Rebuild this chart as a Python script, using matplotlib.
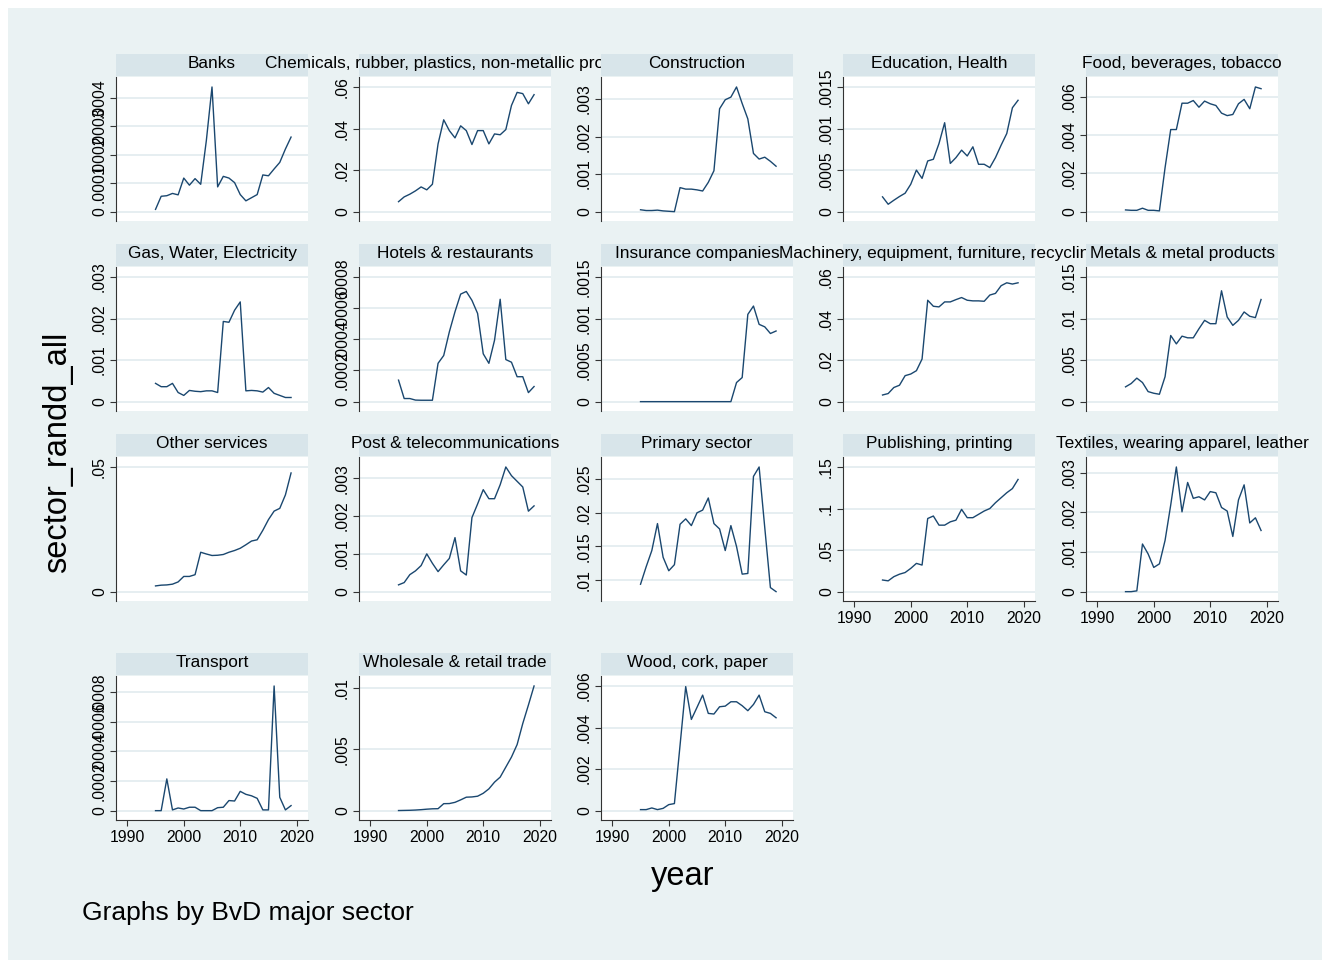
import numpy as np
import matplotlib.pyplot as plt
from matplotlib.patches import Rectangle

plt.rcParams['font.family'] = ['Liberation Sans', 'DejaVu Sans']

years = np.arange(1995, 2020)

sectors = ["Banks", "Chemicals, rubber, plastics, non-metallic products", "Construction",
           "Education, Health", "Food, beverages, tobacco", "Gas, Water, Electricity",
           "Hotels & restaurants", "Insurance companies",
           "Machinery, equipment, furniture, recycling", "Metals & metal products",
           "Other services", "Post & telecommunications", "Primary sector",
           "Publishing, printing", "Textiles, wearing apparel, leather", "Transport",
           "Wholesale & retail trade", "Wood, cork, paper"]

banks = np.array([0.08, 0.54, 0.56, 0.64, 0.59, 1.18, 0.93, 1.16, 0.96, 2.5, 4.38, 0.87, 1.24,
                  1.18, 1.02, 0.6, 0.38, 0.49, 0.6, 1.29, 1.26, 1.5, 1.73, 2.2, 2.62]) * 1e-4
chemicals = [0.0048, 0.0071, 0.0084, 0.0100, 0.0119, 0.0105, 0.0132, 0.0326, 0.0442, 0.0390,
             0.0355, 0.0413, 0.0390, 0.0323, 0.0390, 0.0390, 0.0326, 0.0374, 0.0370, 0.0395,
             0.0511, 0.0574, 0.0568, 0.0519, 0.0563]
construction = [0.00005, 0.00003, 0.00003, 0.00004, 0.00002, 0.00001, 0.0, 0.00064, 0.0006,
                0.0006, 0.00058, 0.00055, 0.00078, 0.00109, 0.00274, 0.00298, 0.00305, 0.00332,
                0.00288, 0.00247, 0.00155, 0.0014, 0.00145, 0.00134, 0.00121]
education = [0.000178, 0.000089, 0.000137, 0.000182, 0.000222, 0.00033, 0.0005, 0.0004, 0.00061,
             0.00063, 0.00082, 0.00107, 0.00058, 0.00065, 0.00074, 0.00067, 0.00078, 0.00057,
             0.00057, 0.00053, 0.00065, 0.0008, 0.00094, 0.00125, 0.00134]
food = [0.00009, 0.00007, 0.00007, 0.00018, 0.00007, 0.00007, 0.00004, 0.0023, 0.0043, 0.0043,
        0.00568, 0.00568, 0.00582, 0.00547, 0.00579, 0.00565, 0.00556, 0.00516, 0.00503, 0.00509,
        0.00565, 0.00588, 0.00539, 0.00653, 0.00644]
gas = [0.00044, 0.00036, 0.00036, 0.00044, 0.00022, 0.00015, 0.00027, 0.00025, 0.00024, 0.00026,
       0.00026, 0.00022, 0.00193, 0.00191, 0.0022, 0.0024, 0.00026, 0.00027, 0.00026, 0.00023,
       0.00034, 0.0002, 0.00015, 0.0001, 0.0001]
hotels = [0.000138, 0.00002, 0.00002, 0.00001, 0.000009, 0.000009, 0.000009, 0.000246, 0.000296,
          0.000448, 0.000577, 0.00069, 0.000707, 0.00065, 0.000566, 0.000307, 0.000246, 0.000394,
          0.000657, 0.00027, 0.000253, 0.00016, 0.00016, 0.000058, 0.000097]
insurance = [0, 0, 0, 0, 0, 0, 0, 0, 0, 0, 0, 0, 0, 0, 0, 0, 0, 0.00023, 0.00029, 0.00105,
             0.00115, 0.00093, 0.0009, 0.00082, 0.00085]
machinery = [0.0032, 0.0039, 0.0068, 0.0079, 0.0125, 0.0133, 0.0149, 0.0205, 0.0488, 0.0459,
             0.0456, 0.048, 0.048, 0.0491, 0.0501, 0.0488, 0.0485, 0.0485, 0.0483, 0.0513,
             0.0521, 0.0558, 0.0572, 0.0566, 0.0572]
metals = [0.00178, 0.00218, 0.00283, 0.0023, 0.00121, 0.00101, 0.00089, 0.003, 0.00796, 0.00695,
          0.00788, 0.00768, 0.00768, 0.00877, 0.00978, 0.00938, 0.00938, 0.01334, 0.01019,
          0.00918, 0.00978, 0.01079, 0.01027, 0.01011, 0.01229]
other = [0.0023, 0.0026, 0.0027, 0.003, 0.0039, 0.0061, 0.0061, 0.0068, 0.0158, 0.0151, 0.0145,
         0.0146, 0.0149, 0.0158, 0.0165, 0.0174, 0.0188, 0.0203, 0.0208, 0.0246, 0.0289, 0.0323,
         0.0334, 0.0388, 0.0476]
post = [0.00018, 0.00024, 0.00045, 0.00055, 0.00069, 0.001, 0.00075, 0.00053, 0.00071, 0.00088,
        0.00143, 0.00055, 0.00044, 0.00196, 0.00232, 0.0027, 0.00246, 0.00246, 0.00283, 0.0033,
        0.00307, 0.00292, 0.00277, 0.00213, 0.00227]
primary = [0.0094, 0.012, 0.0144, 0.0184, 0.0134, 0.0114, 0.0123, 0.0183, 0.0191, 0.0181, 0.02,
           0.0204, 0.0222, 0.0184, 0.0176, 0.0144, 0.0181, 0.015, 0.0109, 0.011, 0.0254, 0.0268,
           0.0178, 0.0089, 0.0083]
publishing = [0.014, 0.013, 0.018, 0.021, 0.023, 0.028, 0.034, 0.032, 0.088, 0.091, 0.080, 0.080,
              0.084, 0.086, 0.099, 0.089, 0.089, 0.093, 0.097, 0.100, 0.107, 0.113, 0.119, 0.124,
              0.135]
textiles = [0.0, 0.0, 0.00002, 0.0012, 0.00095, 0.00061, 0.0007, 0.00129, 0.00218, 0.00314,
            0.00201, 0.00275, 0.00235, 0.00239, 0.00231, 0.00252, 0.00249, 0.00212, 0.00203,
            0.00139, 0.00231, 0.00269, 0.00173, 0.00186, 0.00154]
transport = [0.0, 0.0, 0.000214, 0.000005, 0.000018, 0.000011, 0.000023, 0.000023, 0.0, 0.0, 0.0,
             0.00002, 0.000023, 0.000068, 0.000065, 0.00013, 0.00011, 0.0001, 0.000083, 0.000005,
             0.000005, 0.00084, 0.00009, 0.000005, 0.000034]
wholesale = [0.00001, 0.00002, 0.00003, 0.00005, 0.00008, 0.00012, 0.00015, 0.00016, 0.00057,
             0.00058, 0.00068, 0.00088, 0.0011, 0.00112, 0.00118, 0.00142, 0.00178, 0.00233,
             0.00274, 0.00356, 0.00438, 0.0054, 0.00712, 0.00863, 0.01019]
wood = [0.00005, 0.00005, 0.00013, 0.00005, 0.00011, 0.00029, 0.00034, 0.00315, 0.00597, 0.00439,
        0.00497, 0.00556, 0.00468, 0.00465, 0.005, 0.00503, 0.00524, 0.00524, 0.00505, 0.00481,
        0.00511, 0.00556, 0.00476, 0.00468, 0.00447]

series = [banks, chemicals, construction, education, food, gas, hotels, insurance, machinery,
          metals, other, post, primary, publishing, textiles, transport, wholesale, wood]

yticks = [[0, .0001, .0002, .0003, .0004], [0, .02, .04, .06], [0, .001, .002, .003],
          [0, .0005, .001, .0015], [0, .002, .004, .006], [0, .001, .002, .003],
          [0, .0002, .0004, .0006, .0008], [0, .0005, .001, .0015], [0, .02, .04, .06],
          [0, .005, .01, .015], [0, .05], [0, .001, .002, .003], [.01, .015, .02, .025],
          [0, .05, .1, .15], [0, .001, .002, .003], [0, .0002, .0004, .0006, .0008],
          [0, .005, .01], [0, .002, .004, .006]]
xticks = [1990, 2000, 2010, 2020]
with_xaxis = [13, 14, 15, 16, 17]

BG = '#EAF2F3'
STRIP = '#D8E5EA'
GRID = '#E4EDF0'
NAVY = '#1A476F'

W, H = 1324, 960
col_left = [116, 359, 601, 843, 1086]
row_top = [77, 267, 457, 676]
pw, ph = 192, 144


def ylab(v):
    s = '%g' % v
    return s[1:] if s.startswith('0.') else s


fig = plt.figure(figsize=(W / 100, H / 100), dpi=100)
fig.patch.set_facecolor('white')
fig.patches.append(Rectangle((8 / W, 0), 1314 / W, 952 / H, transform=fig.transFigure,
                             facecolor=BG, edgecolor='none', zorder=-1))

for i, name in enumerate(sectors):
    r, c = divmod(i, 5)
    x0 = col_left[c]
    top = row_top[r]

    # title strip above each panel
    sax = fig.add_axes([x0 / W, 1 - (top - 1) / H, pw / W, 22 / H])
    sax.set_facecolor(STRIP)
    sax.set_xticks([])
    sax.set_yticks([])
    for sp in sax.spines.values():
        sp.set_visible(False)
    sax.text(0.5, 0.56, name, ha='center', va='center', fontsize=12.4,
             transform=sax.transAxes, clip_on=False)

    ax = fig.add_axes([x0 / W, 1 - (top + ph) / H, pw / W, ph / H])
    ax.set_facecolor('white')
    y = np.asarray(series[i], dtype=float)
    ax.plot(years, y, color=NAVY, lw=1.0)

    ticks = yticks[i]
    lo = min(ticks[0], y.min())
    hi = max(ticks[-1], y.max())
    rng = hi - lo
    ax.set_ylim(lo - 0.075 * rng, hi + 0.08 * rng)
    ax.set_xlim(1988, 2022)
    ax.set_yticks(ticks)
    ax.set_yticklabels([ylab(t) for t in ticks], rotation=90, va='center')
    ax.yaxis.grid(True, color=GRID, lw=1.3)
    ax.set_axisbelow(True)

    for side in ['top', 'right']:
        ax.spines[side].set_visible(False)
    ax.spines['left'].set_color('#333333')
    ax.spines['left'].set_linewidth(0.8)
    ax.tick_params(axis='y', direction='out', length=4, width=0.8, color='#333333',
                   labelsize=11.3, pad=2.5)

    if i in with_xaxis:
        ax.spines['bottom'].set_color('#333333')
        ax.spines['bottom'].set_linewidth(0.8)
        ax.set_xticks(xticks)
        ax.tick_params(axis='x', direction='out', length=4, width=0.8, color='#333333',
                       labelsize=11.3, pad=3)
    else:
        ax.spines['bottom'].set_visible(False)
        ax.set_xticks([])

fig.text(58 / W, 1 - 452 / H, 'sector_randd_all', rotation=90, ha='center', va='center',
         fontsize=23.5)
fig.text(683 / W, 1 - 877 / H, 'year', ha='center', va='center', fontsize=23.5)
fig.text(82 / W, 1 - 920 / H, 'Graphs by BvD major sector', ha='left', va='baseline',
         fontsize=19)

plt.savefig('out.png', dpi=100)
